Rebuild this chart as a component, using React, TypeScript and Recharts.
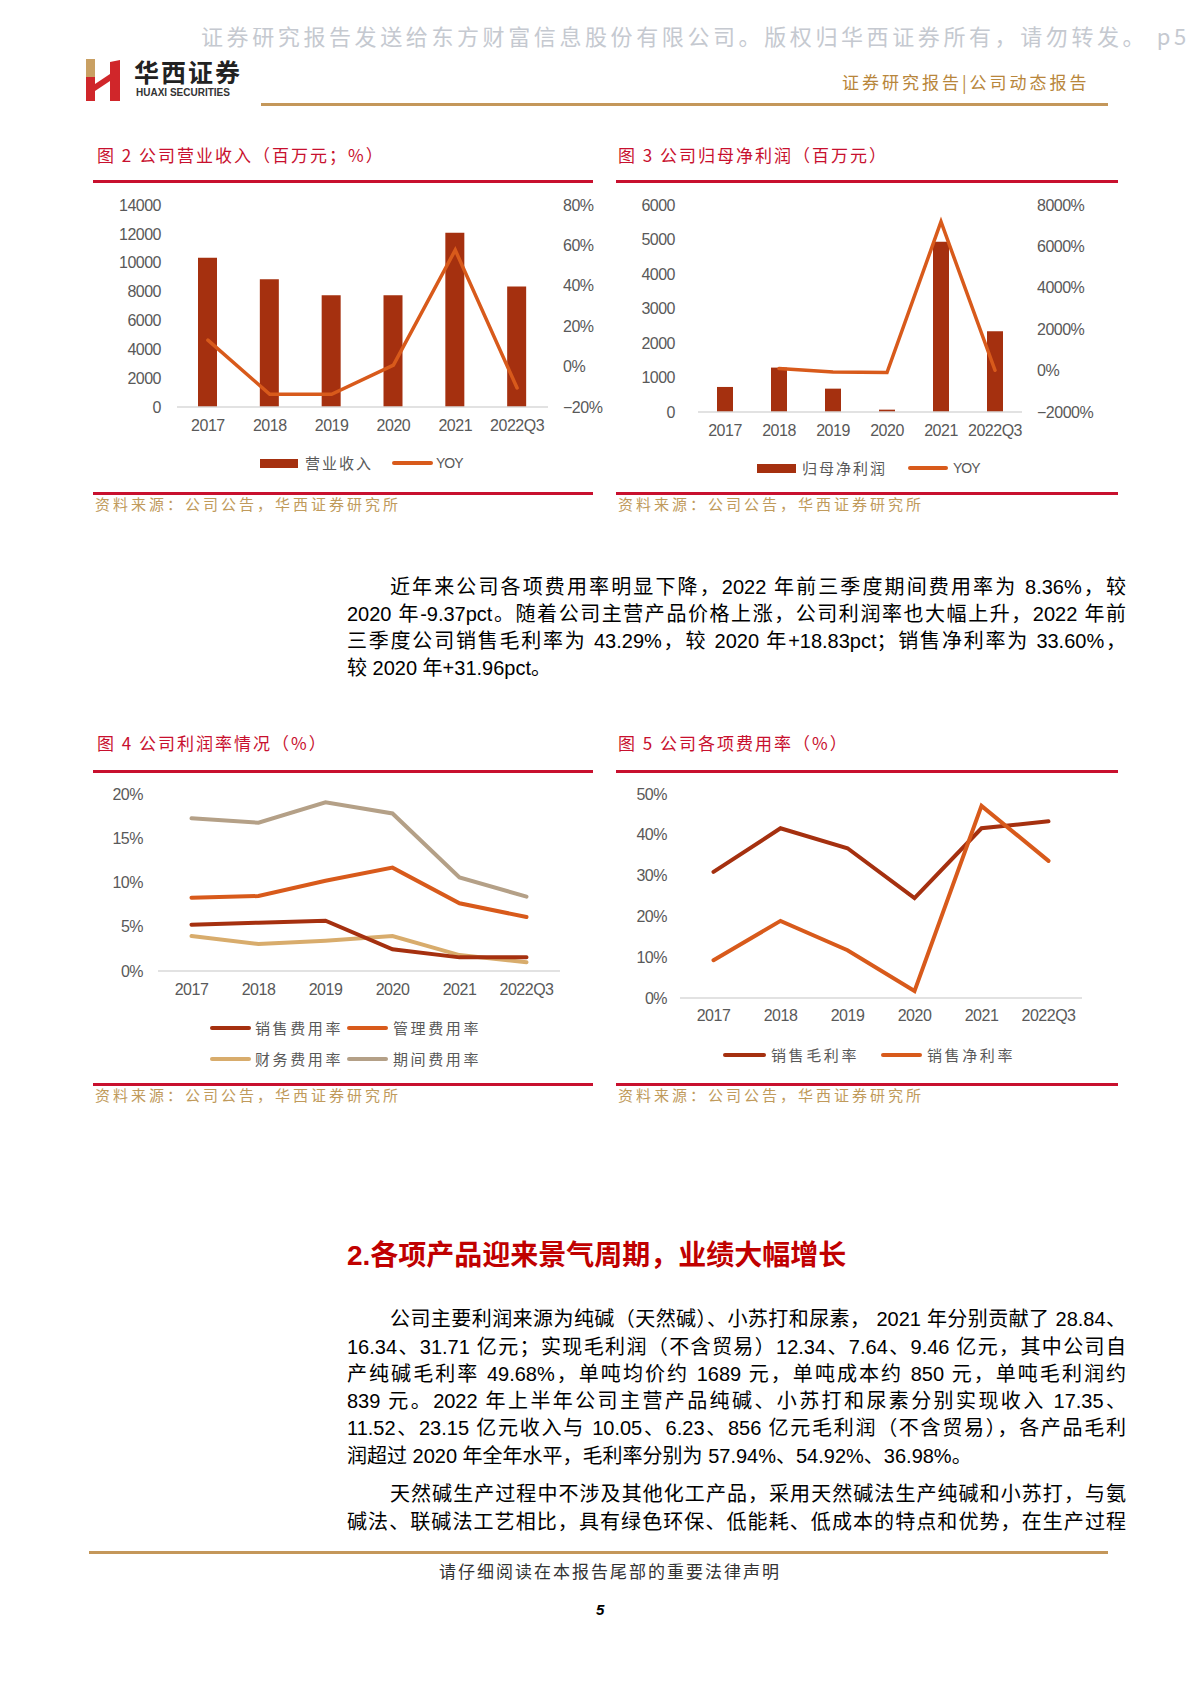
import React from "react";
import { Bar, ComposedChart, Line, LineChart, XAxis, YAxis } from "recharts";

const years = ["2017", "2018", "2019", "2020", "2021", "2022Q3"];

// 图2 营业收入（百万元）与 YOY（%）
const revenue = [10340, 8860, 7750, 7750, 12080, 8350];
const revenueYoy = [13.1, -13.7, -13.7, 0.7, 57.7, -10.6];
const revenueTicks = [0, 2000, 4000, 6000, 8000, 10000, 12000, 14000];
const revenueYoyTicks = [-20, 0, 20, 40, 60, 80];

// 图3 归母净利润（百万元）与 YOY（%）
const netProfit = [726, 1287, 677, 68, 4935, 2342];
const netProfitYoy = [null, 97, -65, -97, 7190, 16];
const netProfitTicks = [0, 1000, 2000, 3000, 4000, 5000, 6000];
const netProfitYoyTicks = [-2000, 0, 2000, 4000, 6000, 8000];

// 图4 费用率（%）
const sellingRate = [5.24, 5.46, 5.69, 2.45, 1.54, 1.54];
const adminRate = [8.29, 8.47, 10.2, 11.68, 7.65, 6.1];
const financeRate = [3.95, 3.05, 3.43, 3.95, 1.8, 0.98];
const periodRate = [17.25, 16.76, 19.06, 17.8, 10.58, 8.4];
const rateTicks = [0, 5, 10, 15, 20];

// 图5 利润率（%）
const grossMargin = [30.9, 41.6, 36.7, 24.5, 41.6, 43.3];
const netMargin = [9.25, 18.9, 11.7, 1.7, 47.1, 33.6];
const marginTicks = [0, 10, 20, 30, 40, 50];

const DARK = "#a5300f";
const ORANGE = "#d85a1b";
const TAN = "#d8ac6c";
const GREYTAN = "#b4a087";
const RED = "#c8102e";
const GOLD = "#c4975a";

const CJK = '"Noto Sans CJK SC", sans-serif';
const BODY = '"Liberation Sans", "Noto Sans CJK SC", sans-serif';

const fig2Data = years.map((year, i) => ({ year, revenue: revenue[i], yoy: revenueYoy[i] }));
const fig3Data = years.map((year, i) => ({ year, profit: netProfit[i], yoy: netProfitYoy[i] }));
const fig4Data = years.map((year, i) => ({
  year,
  selling: sellingRate[i],
  admin: adminRate[i],
  finance: financeRate[i],
  period: periodRate[i],
}));
const fig5Data = years.map((year, i) => ({ year, gross: grossMargin[i], net: netMargin[i] }));

const pct = (v: number) => `${v < 0 ? "−" : ""}${Math.abs(v)}%`;

const tickStyle = {
  fill: "#595959",
  fontSize: 16,
  fontFamily: '"Liberation Sans", Arial, sans-serif',
  letterSpacing: -0.5,
};
const axisLine = { stroke: "#d9d9d9", strokeWidth: 1.5 };

function Txt({ x, y, size, color = "#000", children, style }: any) {
  return (
    <div
      style={{
        position: "absolute",
        left: x,
        top: y,
        fontSize: size,
        color,
        lineHeight: 1.2,
        transform: "translateY(-50%)",
        whiteSpace: "nowrap",
        fontFamily: CJK,
        ...style,
      }}
    >
      {children}
    </div>
  );
}

function JLine({ x, y, text, last }: any) {
  return (
    <div
      style={{
        position: "absolute",
        left: x,
        top: y,
        width: 1126 - x,
        transform: "translateY(-50%)",
        fontSize: 20,
        lineHeight: 1.2,
        textAlign: "justify",
        textAlignLast: last ? "left" : "justify",
        fontFamily: BODY,
        color: "#000",
      }}
    >
      {text}
    </div>
  );
}

function Rule({ x1, x2, y, color, h = 3 }: any) {
  return <div style={{ position: "absolute", left: x1, top: y - h / 2, width: x2 - x1, height: h, background: color }} />;
}

function LegendItem({ x, y, w, kind, color, label, textX, size = 15, spacing = 2, family = CJK }: any) {
  return (
    <>
      <div
        style={{
          position: "absolute",
          left: x,
          top: y - (kind === "rect" ? 4.5 : 2),
          width: w,
          height: kind === "rect" ? 9 : 4,
          borderRadius: kind === "rect" ? 0 : 2,
          background: color,
        }}
      />
      <Txt x={textX} y={y} size={size} color="#595959" style={{ letterSpacing: spacing, fontFamily: family }}>
        {label}
      </Txt>
    </>
  );
}

function Fig2() {
  return (
    <div style={{ position: "absolute", left: 93, top: 185, width: 510, height: 290 }}>
      <ComposedChart width={510} height={290} data={fig2Data} margin={{ top: 20, right: 0, bottom: 38, left: 0 }}>
        <XAxis dataKey="year" axisLine={axisLine} tickLine={false} tickSize={0} tickMargin={13} height={30} tick={tickStyle} interval={0} />
        <YAxis yAxisId="l" width={84} domain={[0, 14000]} ticks={revenueTicks} axisLine={false} tickLine={false} tickSize={0} tickMargin={16} tick={tickStyle} interval={0} />
        <YAxis yAxisId="r" orientation="right" width={55} domain={[-20, 80]} ticks={revenueYoyTicks} tickFormatter={pct} axisLine={false} tickLine={false} tickSize={0} tickMargin={15} tick={tickStyle} interval={0} />
        <Bar yAxisId="l" dataKey="revenue" fill={DARK} barSize={19} isAnimationActive={false} />
        <Line yAxisId="r" type="linear" dataKey="yoy" stroke={ORANGE} strokeWidth={3.5} strokeLinecap="round" dot={false} activeDot={false} isAnimationActive={false} />
      </ComposedChart>
    </div>
  );
}

function Fig3() {
  return (
    <div style={{ position: "absolute", left: 616, top: 185, width: 502, height: 290 }}>
      <ComposedChart width={502} height={290} data={fig3Data} margin={{ top: 20, right: 0, bottom: 33, left: 0 }}>
        <XAxis dataKey="year" axisLine={axisLine} tickLine={false} tickSize={0} tickMargin={13} height={30} tick={tickStyle} interval={0} />
        <YAxis yAxisId="l" width={82} domain={[0, 6000]} ticks={netProfitTicks} axisLine={false} tickLine={false} tickSize={0} tickMargin={23} tick={tickStyle} interval={0} />
        <YAxis yAxisId="r" orientation="right" width={96} domain={[-2000, 8000]} ticks={netProfitYoyTicks} tickFormatter={pct} axisLine={false} tickLine={false} tickSize={0} tickMargin={15} tick={tickStyle} interval={0} />
        <Bar yAxisId="l" dataKey="profit" fill={DARK} barSize={16} isAnimationActive={false} />
        <Line yAxisId="r" type="linear" dataKey="yoy" stroke={ORANGE} strokeWidth={3.5} strokeLinecap="round" dot={false} activeDot={false} isAnimationActive={false} />
      </ComposedChart>
    </div>
  );
}

function Fig4() {
  const lines = [
    { key: "period", color: GREYTAN },
    { key: "finance", color: TAN },
    { key: "admin", color: ORANGE },
    { key: "selling", color: DARK },
  ];
  return (
    <div style={{ position: "absolute", left: 93, top: 775, width: 500, height: 240 }}>
      <LineChart width={500} height={240} data={fig4Data} margin={{ top: 19, right: 33, bottom: 14, left: 0 }}>
        <XAxis dataKey="year" scale="band" axisLine={axisLine} tickLine={false} tickSize={0} tickMargin={13} height={30} tick={tickStyle} interval={0} />
        <YAxis width={65} domain={[0, 20]} ticks={rateTicks} tickFormatter={pct} axisLine={false} tickLine={false} tickSize={0} tickMargin={15} tick={tickStyle} interval={0} />
        {lines.map((l) => (
          <Line key={l.key} type="linear" dataKey={l.key} stroke={l.color} strokeWidth={4} strokeLinecap="round" dot={false} activeDot={false} isAnimationActive={false} />
        ))}
      </LineChart>
    </div>
  );
}

function Fig5() {
  return (
    <div style={{ position: "absolute", left: 616, top: 775, width: 502, height: 260 }}>
      <LineChart width={502} height={260} data={fig5Data} margin={{ top: 19, right: 36, bottom: 7, left: 0 }}>
        <XAxis dataKey="year" scale="band" axisLine={axisLine} tickLine={false} tickSize={0} tickMargin={12} height={30} tick={tickStyle} interval={0} />
        <YAxis width={64} domain={[0, 50]} ticks={marginTicks} tickFormatter={pct} axisLine={false} tickLine={false} tickSize={0} tickMargin={13} tick={tickStyle} interval={0} />
        <Line type="linear" dataKey="gross" stroke={DARK} strokeWidth={4} strokeLinecap="round" dot={false} activeDot={false} isAnimationActive={false} />
        <Line type="linear" dataKey="net" stroke={ORANGE} strokeWidth={4} strokeLinecap="round" dot={false} activeDot={false} isAnimationActive={false} />
      </LineChart>
    </div>
  );
}

function Logo() {
  return (
    <svg style={{ position: "absolute", left: 84, top: 57 }} width={40} height={44} viewBox="0 0 40 44">
      <polygon points="2,2 11,2 11,20 2,20" fill="#c9a063" />
      <polygon points="2,20 11,20 11,44 2,44" fill="#d0262a" />
      <polygon points="11,27 26,17 26,24 11,34" fill="#d0262a" />
      <polygon points="26,5 36,3 36,44 26,44" fill="#d0262a" />
    </svg>
  );
}

export default function App() {
  const src = "资料来源：公司公告，华西证券研究所";
  return (
    <div style={{ position: "absolute", left: 0, top: 0, width: 1189, height: 1683, background: "#fff", overflow: "hidden", fontFamily: CJK }}>
      {/* header */}
      <Txt x={201} y={35} size={22} color="#c5c9d0" style={{ letterSpacing: 3.6 }}>
        证券研究报告发送给东方财富信息股份有限公司。版权归华西证券所有，请勿转发。 p5
      </Txt>
      <Logo />
      <Txt x={134} y={71} size={25} color="#222" style={{ fontWeight: 700, letterSpacing: 2 }}>
        华西证券
      </Txt>
      <Txt x={136} y={93} size={10} color="#333" style={{ fontFamily: BODY, fontWeight: 600 }}>
        HUAXI SECURITIES
      </Txt>
      <Txt x={842} y={82} size={17} color="#b8863b" style={{ letterSpacing: 3 }}>
        证券研究报告|公司动态报告
      </Txt>
      <Rule x1={261} x2={1108} y={104} color={GOLD} />

      {/* 图2 / 图3 */}
      <Txt x={97} y={155} size={17} color={RED} style={{ letterSpacing: 2 }}>图 2 公司营业收入（百万元；%）</Txt>
      <Txt x={618} y={155} size={17} color={RED} style={{ letterSpacing: 2 }}>图 3 公司归母净利润（百万元）</Txt>
      <Rule x1={93} x2={593} y={181} color={RED} />
      <Rule x1={616} x2={1118} y={181} color={RED} />
      <Fig2 />
      <Fig3 />
      <LegendItem x={260} y={463} w={38} kind="rect" color={DARK} label="营业收入" textX={305} />
      <LegendItem x={392} y={463} w={41} kind="line" color={ORANGE} label="YOY" textX={436} size={14} spacing={-1} family={BODY} />
      <LegendItem x={757} y={468} w={39} kind="rect" color={DARK} label="归母净利润" textX={802} />
      <LegendItem x={908} y={468} w={40} kind="line" color={ORANGE} label="YOY" textX={953} size={14} spacing={-1} family={BODY} />
      <Rule x1={93} x2={593} y={493} color={RED} />
      <Rule x1={616} x2={1118} y={493} color={RED} />
      <Txt x={95} y={504} size={15} color="#c09a5b" style={{ letterSpacing: 3 }}>{src}</Txt>
      <Txt x={618} y={504} size={15} color="#c09a5b" style={{ letterSpacing: 3 }}>{src}</Txt>

      {/* paragraph 1 */}
      <JLine x={390} y={587} text="近年来公司各项费用率明显下降，2022 年前三季度期间费用率为 8.36%，较" />
      <JLine x={347} y={614} text="2020 年-9.37pct。随着公司主营产品价格上涨，公司利润率也大幅上升，2022 年前" />
      <JLine x={347} y={641} text="三季度公司销售毛利率为 43.29%，较 2020 年+18.83pct；销售净利率为 33.60%，" />
      <JLine x={347} y={668} text="较 2020 年+31.96pct。" last />

      {/* 图4 / 图5 */}
      <Txt x={97} y={743} size={17} color={RED} style={{ letterSpacing: 2 }}>图 4 公司利润率情况（%）</Txt>
      <Txt x={618} y={743} size={17} color={RED} style={{ letterSpacing: 2 }}>图 5 公司各项费用率（%）</Txt>
      <Rule x1={93} x2={593} y={771} color={RED} />
      <Rule x1={616} x2={1118} y={771} color={RED} />
      <Fig4 />
      <Fig5 />
      <LegendItem x={210} y={1028} w={41} kind="line" color={DARK} label="销售费用率" textX={255} spacing={2.6} />
      <LegendItem x={347} y={1028} w={41} kind="line" color={ORANGE} label="管理费用率" textX={393} spacing={2.6} />
      <LegendItem x={210} y={1059} w={41} kind="line" color={TAN} label="财务费用率" textX={255} spacing={2.6} />
      <LegendItem x={347} y={1059} w={41} kind="line" color={GREYTAN} label="期间费用率" textX={393} spacing={2.6} />
      <LegendItem x={723} y={1055} w={43} kind="line" color={DARK} label="销售毛利率" textX={771} spacing={2.6} />
      <LegendItem x={881} y={1055} w={41} kind="line" color={ORANGE} label="销售净利率" textX={927} spacing={2.6} />
      <Rule x1={93} x2={593} y={1084} color={RED} />
      <Rule x1={616} x2={1118} y={1084} color={RED} />
      <Txt x={95} y={1095} size={15} color="#c09a5b" style={{ letterSpacing: 3 }}>{src}</Txt>
      <Txt x={618} y={1095} size={15} color="#c09a5b" style={{ letterSpacing: 3 }}>{src}</Txt>

      {/* section 2 */}
      <Txt x={347} y={1256} size={28} color="#c00000" style={{ fontWeight: 700, fontFamily: BODY }}>
        2.各项产品迎来景气周期，业绩大幅增长
      </Txt>
      <JLine x={390} y={1319} text="公司主要利润来源为纯碱（天然碱）、小苏打和尿素， 2021 年分别贡献了 28.84、" />
      <JLine x={347} y={1347} text="16.34、31.71 亿元；实现毛利润（不含贸易）12.34、7.64、9.46 亿元，其中公司自" />
      <JLine x={347} y={1374} text="产纯碱毛利率 49.68%，单吨均价约 1689 元，单吨成本约 850 元，单吨毛利润约" />
      <JLine x={347} y={1401} text="839 元。2022 年上半年公司主营产品纯碱、小苏打和尿素分别实现收入 17.35、" />
      <JLine x={347} y={1428} text="11.52、23.15 亿元收入与 10.05、6.23、856 亿元毛利润（不含贸易），各产品毛利" />
      <JLine x={347} y={1456} text="润超过 2020 年全年水平，毛利率分别为 57.94%、54.92%、36.98%。" last />
      <JLine x={390} y={1494} text="天然碱生产过程中不涉及其他化工产品，采用天然碱法生产纯碱和小苏打，与氨" />
      <JLine x={347} y={1522} text="碱法、联碱法工艺相比，具有绿色环保、低能耗、低成本的特点和优势，在生产过程" />

      {/* footer */}
      <Rule x1={89} x2={1108} y={1552} color={GOLD} />
      <Txt x={439} y={1571} size={17} color="#333" style={{ letterSpacing: 2 }}>请仔细阅读在本报告尾部的重要法律声明</Txt>
      <Txt x={596} y={1610} size={15} color="#000" style={{ fontWeight: 700, fontStyle: "italic", fontFamily: BODY }}>5</Txt>
    </div>
  );
}
